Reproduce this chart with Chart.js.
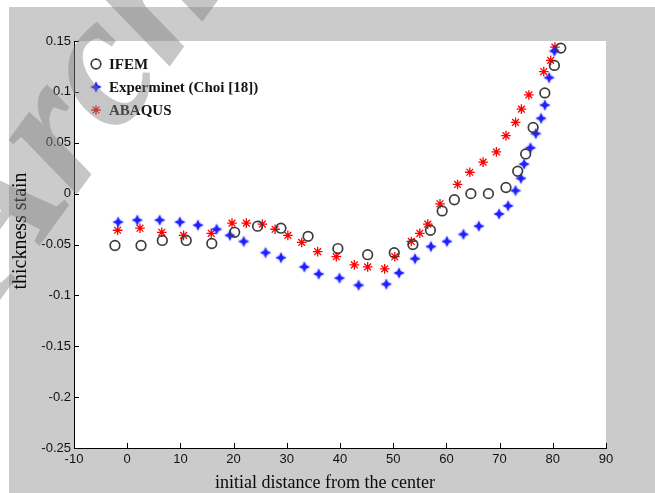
<!DOCTYPE html>
<html>
<head>
<meta charset="utf-8">
<script src="https://cdn.jsdelivr.net/npm/chart.js"></script>
<style>
  html, body { margin: 0; padding: 0; background: #fff; }
  #wrap { width: 655px; height: 493px; }
</style>
</head>
<body>
<div id="wrap"><canvas id="chart" width="655" height="493"></canvas></div>
<script>
// IFEM results (x = initial distance, y = thickness strain)
const ifemX = [-2.3, 2.6, 6.6, 11.1, 15.9, 20.2, 24.5, 28.9, 34.0, 39.6, 45.2, 50.2, 53.7, 57.0, 59.2, 61.5, 64.6, 67.9, 71.2, 73.4, 74.9, 76.3, 78.5, 80.3, 81.5];
const ifemY = [-0.051, -0.051, -0.046, -0.046, -0.049, -0.038, -0.032, -0.034, -0.042, -0.054, -0.060, -0.058, -0.050, -0.036, -0.017, -0.006, 0.000, 0.000, 0.006, 0.022, 0.039, 0.065, 0.099, 0.126, 0.143];

// Experiment (Choi [18])
const expX = [-1.7, 1.9, 6.1, 9.9, 13.3, 16.8, 19.3, 21.9, 26.0, 28.9, 33.3, 36.0, 39.9, 43.5, 48.7, 51.1, 54.1, 57.1, 60.1, 63.2, 66.1, 69.9, 71.6, 73.0, 74.0, 74.6, 75.8, 76.8, 77.8, 78.5, 79.3, 80.3];
const expY = [-0.028, -0.026, -0.026, -0.028, -0.031, -0.035, -0.041, -0.047, -0.058, -0.063, -0.072, -0.079, -0.083, -0.090, -0.089, -0.078, -0.064, -0.052, -0.047, -0.040, -0.032, -0.020, -0.012, 0.003, 0.015, 0.029, 0.045, 0.059, 0.074, 0.087, 0.114, 0.140];

// ABAQUS
const abqX = [-1.8, 2.4, 6.5, 10.6, 15.8, 19.7, 22.4, 25.4, 27.8, 30.2, 32.8, 35.8, 39.3, 42.7, 45.2, 48.4, 50.3, 53.4, 55.0, 56.5, 58.8, 62.1, 64.4, 66.9, 69.4, 71.2, 73.0, 74.1, 75.5, 78.3, 79.6, 80.4];
const abqY = [-0.036, -0.034, -0.038, -0.041, -0.039, -0.029, -0.029, -0.030, -0.035, -0.041, -0.048, -0.057, -0.062, -0.070, -0.072, -0.074, -0.062, -0.047, -0.039, -0.030, -0.010, 0.009, 0.021, 0.031, 0.041, 0.057, 0.070, 0.083, 0.097, 0.120, 0.131, 0.144];

const seriesNames = ['IFEM', 'Experminet (Choi [18])', 'ABAQUS'];
const xTicks = [-10, 0, 10, 20, 30, 40, 50, 60, 70, 80, 90];
const yTicks = [0.15, 0.1, 0.05, 0, -0.05, -0.1, -0.15, -0.2, -0.25];
const xTitle = 'initial distance from the center';
const yTitle = 'thickness stain';

function toPoints(xs, ys) {
  return xs.map((x, i) => ({ x: x, y: ys[i] }));
}

// blue four pointed star marker, slightly blurred like the original
function makeBlueStar() {
  const c = document.createElement('canvas');
  c.width = 14;
  c.height = 14;
  const g = c.getContext('2d');
  g.translate(7, 7);
  g.shadowColor = 'rgba(40,40,255,0.7)';
  g.shadowBlur = 2;
  g.fillStyle = '#1e1eff';
  g.beginPath();
  for (let i = 0; i < 8; i++) {
    const r = i % 2 === 0 ? 5.5 : 2.3;
    const a = i * Math.PI / 4 - Math.PI / 2;
    const px = r * Math.cos(a), py = r * Math.sin(a);
    if (i === 0) g.moveTo(px, py); else g.lineTo(px, py);
  }
  g.closePath();
  g.fill();
  return c;
}
const blueStar = makeBlueStar();

const tickFont = { family: "'Liberation Sans Narrow', 'Liberation Sans', Arial, sans-serif", size: 13 };
const serif = "'Liberation Serif', 'Times New Roman', serif";

// gray page, white plot area, inward tick marks, titles, legend and watermark
const decor = {
  id: 'decor',
  beforeDraw(chart) {
    const { ctx, chartArea: a } = chart;
    ctx.save();
    ctx.fillStyle = '#ffffff';
    ctx.fillRect(0, 0, chart.width, chart.height);
    ctx.fillStyle = '#cbcbcb';
    ctx.fillRect(9, 7, chart.width - 9, chart.height - 7);
    ctx.fillStyle = '#ffffff';
    ctx.fillRect(a.left, a.top, a.right - a.left, a.bottom - a.top);
    ctx.restore();
  },
  afterDraw(chart) {
    const { ctx, chartArea: a, scales } = chart;
    ctx.save();
    ctx.strokeStyle = '#000';
    ctx.lineWidth = 1;
    ctx.beginPath();
    scales.x.ticks.forEach(t => {
      const px = Math.round(scales.x.getPixelForValue(t.value)) + 0.5;
      ctx.moveTo(px, a.bottom);
      ctx.lineTo(px, a.bottom - 5);
    });
    scales.y.ticks.forEach(t => {
      const py = Math.round(scales.y.getPixelForValue(t.value)) + 0.5;
      ctx.moveTo(a.left, py);
      ctx.lineTo(a.left + 5, py);
    });
    ctx.stroke();

    // axis titles
    ctx.fillStyle = '#0a0a0a';
    ctx.textAlign = 'center';
    ctx.textBaseline = 'middle';
    ctx.font = '18px ' + serif;
    ctx.fillText(xTitle, 325, 483);
    ctx.save();
    ctx.translate(21, 231);
    ctx.rotate(-Math.PI / 2);
    ctx.font = '20px ' + serif;
    ctx.fillText(yTitle, 0, 0);
    ctx.restore();

    // legend
    const lx = 96, ly = [64, 87, 110];
    ctx.strokeStyle = '#3c3c3c';
    ctx.lineWidth = 1.7;
    ctx.beginPath();
    ctx.arc(lx, ly[0], 4.8, 0, Math.PI * 2);
    ctx.stroke();
    ctx.drawImage(blueStar, lx - 7, ly[1] - 7);
    ctx.strokeStyle = '#ff0000';
    ctx.lineWidth = 1.3;
    ctx.beginPath();
    for (let i = 0; i < 4; i++) {
      const ang = i * Math.PI / 4;
      ctx.moveTo(lx - 4.8 * Math.cos(ang), ly[2] - 4.8 * Math.sin(ang));
      ctx.lineTo(lx + 4.8 * Math.cos(ang), ly[2] + 4.8 * Math.sin(ang));
    }
    ctx.stroke();
    ctx.fillStyle = '#141414';
    ctx.font = 'bold 15px ' + serif;
    ctx.textAlign = 'left';
    seriesNames.forEach((n, i) => ctx.fillText(n, 109, ly[i] + 1));

    // watermark
    ctx.translate(0, 300);
    ctx.rotate(-54 * Math.PI / 180);
    ctx.fillStyle = 'rgba(128,128,128,0.45)';
    ctx.font = 'italic bold 190px ' + serif;
    ctx.textBaseline = 'alphabetic';
    ctx.fillText('Archive of SID', 0, 0);
    ctx.restore();
  }
};

new Chart(document.getElementById('chart'), {
  type: 'scatter',
  data: {
    datasets: [
      {
        label: seriesNames[0],
        data: toPoints(ifemX, ifemY),
        pointStyle: 'circle',
        pointRadius: 4.8,
        borderWidth: 1.7,
        borderColor: '#3c3c3c',
        backgroundColor: 'rgba(0,0,0,0)'
      },
      {
        label: seriesNames[1],
        data: toPoints(expX, expY),
        pointStyle: blueStar,
        pointRadius: 6
      },
      {
        label: seriesNames[2],
        data: toPoints(abqX, abqY),
        pointStyle: 'star',
        pointRadius: 4.8,
        borderWidth: 1.3,
        borderColor: '#ff0000',
        backgroundColor: '#ff0000'
      }
    ]
  },
  options: {
    responsive: false,
    animation: false,
    devicePixelRatio: 1,
    layout: { padding: { left: 0, top: 41, right: 49, bottom: 0 } },
    plugins: {
      legend: { display: false },
      tooltip: { enabled: false }
    },
    scales: {
      x: {
        type: 'linear',
        min: -10,
        max: 90,
        afterBuildTicks: s => { s.ticks = xTicks.map(v => ({ value: v })); },
        afterFit: s => { s.height = 45; },
        grid: { drawOnChartArea: false, drawTicks: false },
        border: { display: true, color: '#000', width: 1 },
        ticks: { font: tickFont, color: '#111', padding: 4, maxRotation: 0 }
      },
      y: {
        type: 'linear',
        min: -0.25,
        max: 0.15,
        afterBuildTicks: s => { s.ticks = yTicks.map(v => ({ value: v })); },
        afterFit: s => { s.width = 74; },
        grid: { drawOnChartArea: false, drawTicks: false },
        border: { display: true, color: '#000', width: 1 },
        ticks: { font: tickFont, color: '#111', padding: 3, callback: v => String(Math.round(v * 100) / 100) }
      }
    }
  },
  plugins: [decor]
});
</script>
</body>
</html>
